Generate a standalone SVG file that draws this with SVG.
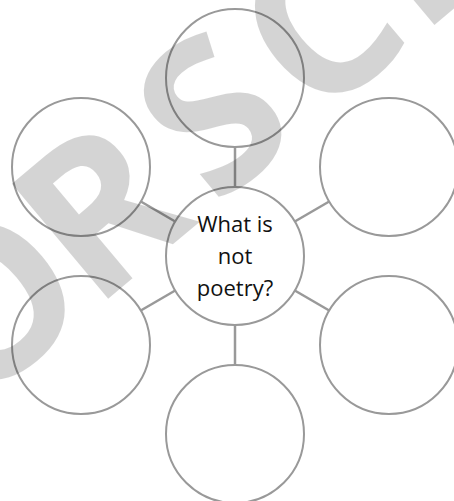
<svg xmlns="http://www.w3.org/2000/svg" width="454" height="501" viewBox="0 0 454 501">
<style>
.c{fill:none;stroke:#999;stroke-width:2}
.l{stroke:#999;stroke-width:2.5}
.t{font-family:"Open Sans","Noto Sans",sans-serif;font-size:22px;fill:#111;text-anchor:middle}
.wm{font-family:"Open Sans","Noto Sans",sans-serif;font-weight:bold;font-size:210px;fill:#000;fill-opacity:0.17;text-anchor:middle}
</style>
<rect width="454" height="501" fill="#fff"/>
<g id="connectors">
<line class="l" x1="235" y1="147" x2="235" y2="187"/>
<line class="l" x1="235" y1="325" x2="235" y2="365"/>
<line class="l" x1="175.2" y1="221.5" x2="140.8" y2="201.5"/>
<line class="l" x1="294.8" y1="221.5" x2="329.2" y2="201.5"/>
<line class="l" x1="175.2" y1="290.5" x2="140.8" y2="310.5"/>
<line class="l" x1="294.8" y1="290.5" x2="329.2" y2="310.5"/>
</g>
<g id="node-top"><circle class="c" cx="235" cy="78" r="69"/></g>
<g id="node-top-left"><circle class="c" cx="81" cy="167" r="69"/></g>
<g id="node-top-right"><circle class="c" cx="389" cy="167" r="69"/></g>
<g id="node-bottom-left"><circle class="c" cx="81" cy="345" r="69"/></g>
<g id="node-bottom-right"><circle class="c" cx="389" cy="345" r="69"/></g>
<g id="node-bottom"><circle class="c" cx="235" cy="434" r="69"/></g>
<g id="node-center">
<circle class="c" cx="235" cy="256" r="69" style="fill:#fff"/>
<text class="t" x="235" y="232">What is</text>
<text class="t" x="235" y="264">not</text>
<text class="t" x="235" y="296">poetry?</text>
</g>
<g id="watermark" transform="translate(97 308) rotate(-40)">
<text class="wm" x="-80" y="0">O</text>
<text class="wm" x="65" y="0">R</text>
<text class="wm" x="213" y="0">S</text>
<text class="wm" x="352" y="0">C</text>
<text class="wm" x="502" y="0">H</text>
</g>
</svg>
